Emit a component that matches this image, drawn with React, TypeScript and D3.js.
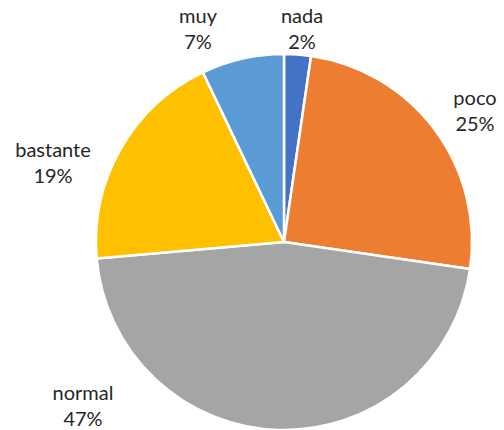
import React from "react";
import * as d3 from "d3";

const categories = ["nada", "poco", "normal", "bastante", "muy"];
const values = [2.3, 25.0, 46.3, 19.3, 7.1];
const percentLabels = ["2%", "25%", "47%", "19%", "7%"];
const colors = ["#4472C4", "#ED7D31", "#A5A5A5", "#FFC000", "#5B9BD5"];
// label anchor positions (center x, first baseline y)
const labelPos: [number, number][] = [
  [302, 23],
  [475, 105],
  [83, 400],
  [53, 157],
  [198, 23],
];

const W = 504;
const H = 430;
const cx = 284;
const cy = 242;
const R = 188;

export default function App() {
  const pie = d3.pie<number>().sort(null).value((d) => d)(values);
  const arc = d3.arc<d3.PieArcDatum<number>>().innerRadius(0).outerRadius(R);
  return (
    <svg
      width={W}
      height={H}
      style={{ position: "absolute", left: 0, top: 0, background: "#fff" }}
    >
      <g transform={`translate(${cx},${cy})`}>
        {pie.map((p, i) => (
          <path
            key={i}
            d={arc(p) || ""}
            fill={colors[i]}
            stroke="#fff"
            strokeWidth={2.5}
            strokeLinejoin="round"
          />
        ))}
      </g>
      {categories.map((c, i) => (
        <text
          key={c}
          textAnchor="middle"
          fontFamily="Lato, 'Open Sans', sans-serif"
          fontSize={20}
          fill="#262626"
        >
          <tspan x={labelPos[i][0]} y={labelPos[i][1]}>
            {c}
          </tspan>
          <tspan x={labelPos[i][0]} y={labelPos[i][1] + 26}>
            {percentLabels[i]}
          </tspan>
        </text>
      ))}
    </svg>
  );
}
